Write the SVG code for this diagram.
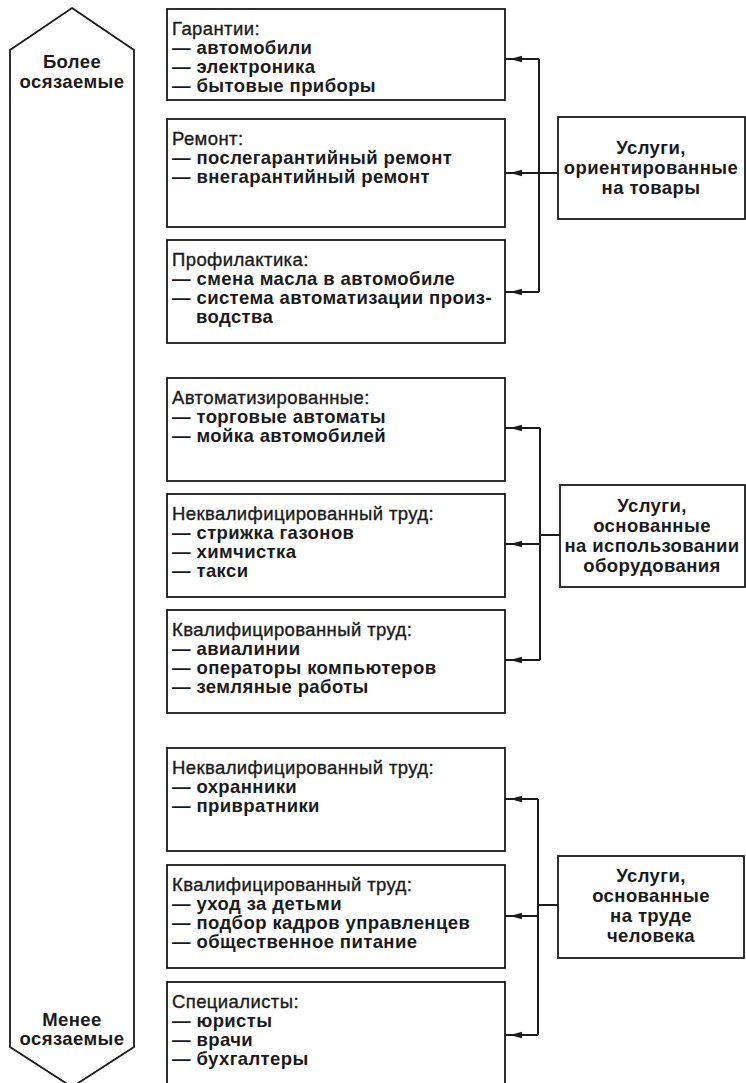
<svg xmlns="http://www.w3.org/2000/svg" width="746" height="1083" viewBox="0 0 746 1083">
<style>
.bg{fill:#fff}
.box{fill:#fff;stroke:#1a1a1a;stroke-width:1.8}
.t{font-family:"Liberation Sans",Arial,sans-serif;font-size:18.5px;font-weight:bold;fill:#1a1a1a;letter-spacing:0.4px}
.h{font-weight:normal;stroke:#1a1a1a;stroke-width:0.35px}
.c{text-anchor:middle}
.ln{stroke:#1a1a1a;stroke-width:2;fill:none}
</style>
<defs>
<marker id="ah" markerUnits="userSpaceOnUse" markerWidth="14" markerHeight="8" refX="17" refY="4" orient="auto">
<path d="M0,0.8 L12,4 L0,7.2 z" fill="#1a1a1a"/>
</marker>
</defs>
<rect class="bg" x="0" y="0" width="746" height="1083"/>

<g id="scale">
<polygon class="box" points="72,8 134,50 134,1047 72,1087 10,1047 10,50"/>
<text class="t c" x="72" y="68">Более</text>
<text class="t c" x="72" y="88">осязаемые</text>
<text class="t c" x="72" y="1026">Менее</text>
<text class="t c" x="72" y="1045">осязаемые</text>
</g>

<g id="connectors">
<path class="ln" d="M539,59 V292 M539,173 H558"/>
<path class="ln" d="M539,59 H505" marker-end="url(#ah)"/>
<path class="ln" d="M539,173 H505" marker-end="url(#ah)"/>
<path class="ln" d="M539,292 H505" marker-end="url(#ah)"/>
<path class="ln" d="M540,428 V660 M540,535 H560"/>
<path class="ln" d="M540,428 H505" marker-end="url(#ah)"/>
<path class="ln" d="M540,544 H505" marker-end="url(#ah)"/>
<path class="ln" d="M540,660 H505" marker-end="url(#ah)"/>
<path class="ln" d="M538,799 V1035 M538,905 H558"/>
<path class="ln" d="M538,799 H505" marker-end="url(#ah)"/>
<path class="ln" d="M538,916 H505" marker-end="url(#ah)"/>
<path class="ln" d="M538,1035 H505" marker-end="url(#ah)"/>
</g>

<g id="n1">
<rect class="box" x="167" y="9" width="338" height="91"/>
<text class="t h" x="172" y="35">Гарантии:</text>
<text class="t" x="172" y="54">— автомобили</text>
<text class="t" x="172" y="73">— электроника</text>
<text class="t" x="172" y="92">— бытовые приборы</text>
</g>
<g id="n2">
<rect class="box" x="167" y="119" width="338" height="108"/>
<text class="t h" x="172" y="145">Ремонт:</text>
<text class="t" x="172" y="164">— послегарантийный ремонт</text>
<text class="t" x="172" y="183">— внегарантийный ремонт</text>
</g>
<g id="n3">
<rect class="box" x="167" y="240" width="338" height="103"/>
<text class="t h" x="172" y="266">Профилактика:</text>
<text class="t" x="172" y="285">— смена масла в автомобиле</text>
<text class="t" x="172" y="304">— система автоматизации произ-</text>
<text class="t" x="196" y="323">водства</text>
</g>
<g id="n4">
<rect class="box" x="167" y="378" width="338" height="103"/>
<text class="t h" x="172" y="404">Автоматизированные:</text>
<text class="t" x="172" y="423">— торговые автоматы</text>
<text class="t" x="172" y="442">— мойка автомобилей</text>
</g>
<g id="n5">
<rect class="box" x="167" y="494" width="338" height="103"/>
<text class="t h" x="172" y="520">Неквалифицированный труд:</text>
<text class="t" x="172" y="539">— стрижка газонов</text>
<text class="t" x="172" y="558">— химчистка</text>
<text class="t" x="172" y="577">— такси</text>
</g>
<g id="n6">
<rect class="box" x="167" y="610" width="338" height="103"/>
<text class="t h" x="172" y="636">Квалифицированный труд:</text>
<text class="t" x="172" y="655">— авиалинии</text>
<text class="t" x="172" y="674">— операторы компьютеров</text>
<text class="t" x="172" y="693">— земляные работы</text>
</g>
<g id="n7">
<rect class="box" x="167" y="748" width="338" height="103"/>
<text class="t h" x="172" y="774">Неквалифицированный труд:</text>
<text class="t" x="172" y="793">— охранники</text>
<text class="t" x="172" y="812">— привратники</text>
</g>
<g id="n8">
<rect class="box" x="167" y="865" width="338" height="103"/>
<text class="t h" x="172" y="891">Квалифицированный труд:</text>
<text class="t" x="172" y="910">— уход за детьми</text>
<text class="t" x="172" y="929">— подбор кадров управленцев</text>
<text class="t" x="172" y="948">— общественное питание</text>
</g>
<g id="n9">
<rect class="box" x="167" y="982" width="338" height="110"/>
<text class="t h" x="172" y="1008">Специалисты:</text>
<text class="t" x="172" y="1027">— юристы</text>
<text class="t" x="172" y="1046">— врачи</text>
<text class="t" x="172" y="1065">— бухгалтеры</text>
</g>

<g id="r1">
<rect class="box" x="558" y="117" width="187" height="102"/>
<text class="t c" x="651" y="154">Услуги,</text>
<text class="t c" x="651" y="174">ориентированные</text>
<text class="t c" x="651" y="194">на товары</text>
</g>
<g id="r2">
<rect class="box" x="560" y="485" width="185" height="102"/>
<text class="t c" x="652" y="512">Услуги,</text>
<text class="t c" x="652" y="532">основанные</text>
<text class="t c" x="652" y="552">на использовании</text>
<text class="t c" x="652" y="572">оборудования</text>
</g>
<g id="r3">
<rect class="box" x="558" y="856" width="186" height="102"/>
<text class="t c" x="651" y="882">Услуги,</text>
<text class="t c" x="651" y="902">основанные</text>
<text class="t c" x="651" y="922">на труде</text>
<text class="t c" x="651" y="942">человека</text>
</g>
</svg>
